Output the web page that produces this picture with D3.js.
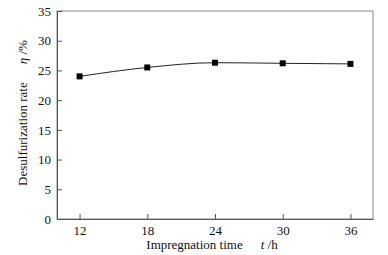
<!DOCTYPE html>
<html>
<head>
<meta charset="utf-8">
<script src="https://cdn.jsdelivr.net/npm/d3@7"></script>
<style>
  body { margin: 0; background: #fff; }
  text { font-family: "Liberation Serif", "Times New Roman", serif; fill: #111; }
</style>
</head>
<body>
<div id="chart"></div>
<script>
  // impregnation time (h) vs desulfurization rate (%)
  const times = [12, 18, 24, 30, 36];
  const rates = [24.0, 25.5, 26.3, 26.2, 26.1];
  const xTicks = [12, 18, 24, 30, 36];
  const yTicks = [0, 5, 10, 15, 20, 25, 30, 35];

  const width = 388, height = 255;
  const margin = { top: 11, right: 15, bottom: 36, left: 57 };
  const plot_width = width - margin.left - margin.right;
  const plot_height = height - margin.top - margin.bottom;

  const svg = d3.select("#chart").append("svg")
    .attr("width", width).attr("height", height);

  const plot = svg.append("g")
    .attr("transform", `translate(${margin.left},${margin.top})`);

  const xScale = d3.scaleLinear().domain([10, 38]).range([0, plot_width]);
  const yScale = d3.scaleLinear().domain([0, 35]).range([plot_height, 0]);

  // frame
  plot.append("rect")
    .attr("width", plot_width).attr("height", plot_height)
    .style("fill", "none").style("stroke", "#888").style("stroke-width", 1);

  // AXES (ticks inward)
  const xAxis = plot.append("g")
    .attr("transform", `translate(0,${plot_height})`)
    .call(d3.axisBottom(xScale).tickValues(xTicks).tickSizeInner(-5).tickSizeOuter(0).tickPadding(7));
  const yAxis = plot.append("g")
    .call(d3.axisLeft(yScale).tickValues(yTicks).tickSizeInner(-5).tickSizeOuter(0).tickPadding(6));

  [xAxis, yAxis].forEach(g => {
    g.select(".domain").style("stroke", "#555");
    g.selectAll(".tick line").style("stroke", "#555");
    g.selectAll("text").style("font-size", "13px")
      .style("font-family", "'Liberation Serif', serif").style("fill", "#111");
  });

  // LINE
  const line = d3.line()
    .x((d, i) => xScale(times[i]))
    .y(d => yScale(d))
    .curve(d3.curveMonotoneX);

  plot.append("path")
    .datum(rates)
    .attr("d", line)
    .style("fill", "none").style("stroke", "#222").style("stroke-width", 1);

  // MARKERS
  plot.selectAll(".pt").data(rates).join("rect")
    .attr("class", "pt")
    .attr("x", (d, i) => xScale(times[i]) - 3)
    .attr("y", d => yScale(d) - 3)
    .attr("width", 6).attr("height", 6)
    .style("fill", "#000");

  // AXIS LABELS
  const xl = svg.append("text")
    .attr("x", margin.left + plot_width / 2 - 3).attr("y", 249)
    .attr("text-anchor", "middle").style("font-size", "13px");
  xl.append("tspan").text("Impregnation time");
  xl.append("tspan").attr("dx", 18).style("font-style", "italic").text("t");
  xl.append("tspan").text(" /h");

  const yl = svg.append("text")
    .attr("transform", `translate(27,${margin.top + plot_height / 2 - 2}) rotate(-90)`)
    .attr("text-anchor", "middle").style("font-size", "13px");
  yl.append("tspan").text("Desulfurization rate");
  yl.append("tspan").attr("dx", 18).style("font-style", "italic").text("η");
  yl.append("tspan").text(" /%");
</script>
</body>
</html>
